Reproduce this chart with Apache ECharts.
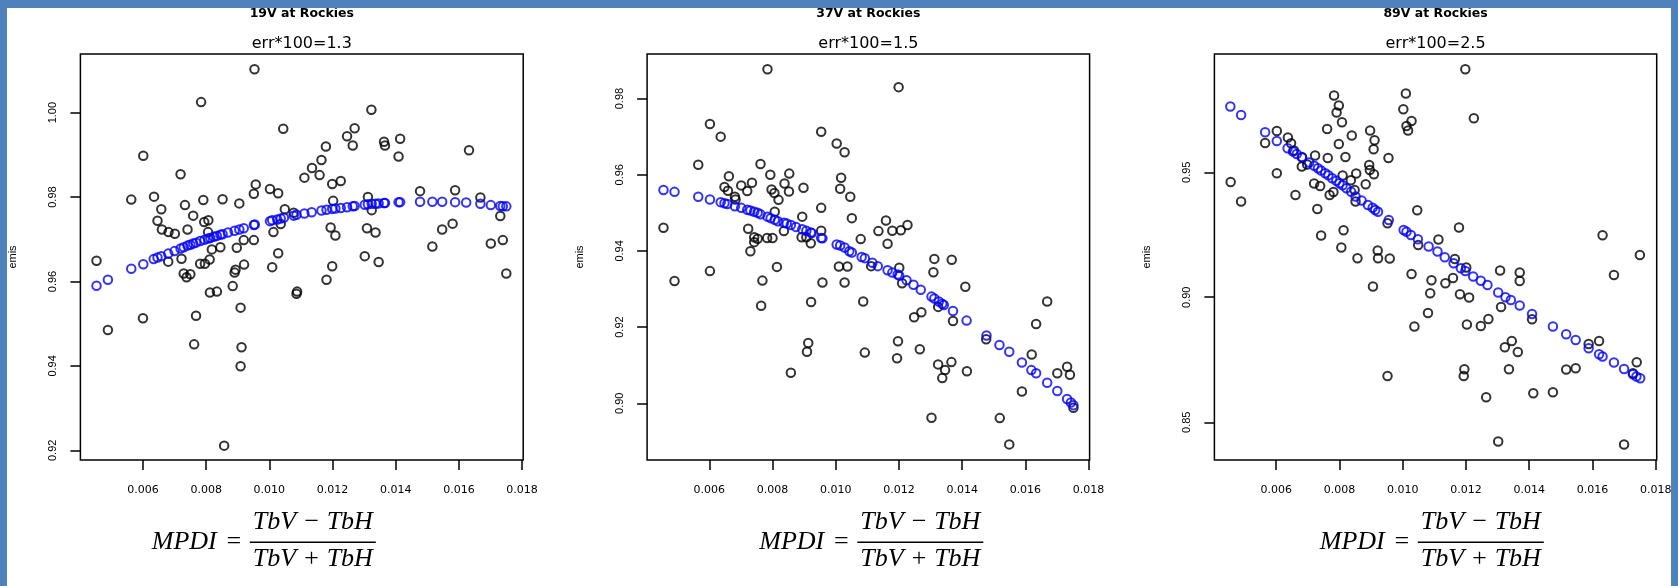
<!DOCTYPE html>
<html>
<head>
<meta charset="utf-8">
<script src="https://cdn.jsdelivr.net/npm/echarts@6/dist/echarts.min.js"></script>
<style>
  html, body { margin: 0; padding: 0; background: #fff; }
  #chart { position: absolute; left: 0; top: 0; width: 1678px; height: 586px; }
  .edge { position: absolute; background: #4f81bd; z-index: 5; }
</style>
</head>
<body>
<div id="chart"></div>
<div class="edge" style="left:0;top:0;width:1678px;height:8px"></div>
<div class="edge" style="left:0;top:0;width:7px;height:586px"></div>
<div class="edge" style="left:1671px;top:0;width:7px;height:586px"></div>
<script>
// panel texts
var mainTitles = ['19V at Rockies', '37V at Rockies', '89V at Rockies'];
var errTitles = ['err*100=1.3', 'err*100=1.5', 'err*100=2.5'];

// tick labels
var xTicks = [0.006, 0.008, 0.010, 0.012, 0.014, 0.016, 0.018];
var yTicks19 = [0.92, 0.94, 0.96, 0.98, 1.00];
var yTicks37 = [0.90, 0.92, 0.94, 0.96, 0.98];
var yTicks89 = [0.85, 0.90, 0.95];

// 19V: observed emis vs MPDI (black) and fitted (blue)
var obs19 = [[0.00953,1.0103],[0.00784,1.0025],[0.01323,1.0007],[0.01044,0.9962],[0.00601,0.9898],[0.00719,0.9854],[0.00563,0.9794],[0.00635,0.9801],[0.00658,0.9771],[0.00646,0.9744],[0.00660,0.9723],[0.00681,0.9717],[0.00701,0.9713],[0.00733,0.9781],[0.00759,0.9756],[0.00741,0.9723],[0.00791,0.9793],[0.00794,0.9741],[0.00807,0.9745],[0.00806,0.9717],[0.00852,0.9795],[0.00905,0.9785],[0.00951,0.9808],[0.00957,0.9830],[0.01002,0.9819],[0.01028,0.9809],[0.01049,0.9771],[0.01077,0.9763],[0.00722,0.9654],[0.00680,0.9647],[0.00818,0.9676],[0.00845,0.9681],[0.00811,0.9652],[0.00781,0.9642],[0.00796,0.9642],[0.00897,0.9680],[0.00919,0.9698],[0.00951,0.9698],[0.00920,0.9640],[0.00893,0.9628],[0.00890,0.9621],[0.00729,0.9619],[0.00738,0.9610],[0.00750,0.9617],[0.00884,0.9589],[0.00812,0.9574],[0.00834,0.9576],[0.01013,0.9717],[0.01036,0.9736],[0.01009,0.9634],[0.01028,0.9667],[0.01088,0.9576],[0.01086,0.9571],[0.01111,0.9846],[0.01135,0.9869],[0.01159,0.9852],[0.01165,0.9888],[0.01179,0.9920],[0.01199,0.9831],[0.01226,0.9838],[0.01202,0.9791],[0.01246,0.9944],[0.01270,0.9963],[0.01264,0.9922],[0.01363,0.9931],[0.01366,0.9922],[0.01414,0.9938],[0.01409,0.9896],[0.01312,0.9800],[0.01324,0.9769],[0.01194,0.9728],[0.01209,0.9709],[0.01309,0.9726],[0.01336,0.9716],[0.01199,0.9636],[0.01181,0.9604],[0.01302,0.9660],[0.01346,0.9646],[0.01477,0.9814],[0.01588,0.9816],[0.01632,0.9911],[0.01516,0.9683],[0.01547,0.9723],[0.01580,0.9737],[0.01668,0.9799],[0.01731,0.9755],[0.01701,0.9690],[0.01739,0.9698],[0.01750,0.9619],[0.00453,0.9649],[0.00489,0.9485],[0.00600,0.9513],[0.00768,0.9519],[0.00762,0.9451],[0.00909,0.9538],[0.00912,0.9444],[0.00909,0.9399],[0.00857,0.9211]];
var fit19 = [[0.00453,0.9590],[0.00489,0.9604],[0.00563,0.9630],[0.00601,0.9641],[0.00634,0.9653],[0.00646,0.9657],[0.00658,0.9660],[0.00680,0.9666],[0.00700,0.9672],[0.00719,0.9678],[0.00729,0.9681],[0.00741,0.9685],[0.00750,0.9687],[0.00759,0.9690],[0.00768,0.9692],[0.00781,0.9696],[0.00795,0.9699],[0.00806,0.9702],[0.00813,0.9703],[0.00824,0.9706],[0.00834,0.9708],[0.00845,0.9711],[0.00852,0.9712],[0.00869,0.9716],[0.00890,0.9720],[0.00905,0.9723],[0.00919,0.9726],[0.00951,0.9734],[0.00954,0.9735],[0.01002,0.9743],[0.01009,0.9745],[0.01025,0.9747],[0.01036,0.9749],[0.01046,0.9751],[0.01077,0.9756],[0.01086,0.9758],[0.01111,0.9761],[0.01134,0.9764],[0.01165,0.9768],[0.01181,0.9770],[0.01199,0.9772],[0.01209,0.9773],[0.01226,0.9774],[0.01246,0.9776],[0.01264,0.9778],[0.01270,0.9779],[0.01302,0.9782],[0.01312,0.9783],[0.01324,0.9784],[0.01336,0.9784],[0.01346,0.9785],[0.01363,0.9786],[0.01366,0.9786],[0.01409,0.9788],[0.01414,0.9788],[0.01477,0.9789],[0.01516,0.9789],[0.01547,0.9789],[0.01588,0.9788],[0.01623,0.9787],[0.01668,0.9784],[0.01701,0.9781],[0.01731,0.9779],[0.01739,0.9778],[0.01750,0.9778]];

// 37V
var obs37 = [[0.00784,0.9877],[0.01199,0.9830],[0.00602,0.9733],[0.00636,0.9700],[0.00954,0.9713],[0.01003,0.9682],[0.01028,0.9659],[0.00565,0.9626],[0.00762,0.9628],[0.00662,0.9596],[0.00793,0.9600],[0.00853,0.9603],[0.00648,0.9568],[0.00659,0.9558],[0.00701,0.9572],[0.00735,0.9579],[0.00720,0.9557],[0.00681,0.9542],[0.00683,0.9535],[0.00797,0.9561],[0.00806,0.9552],[0.00819,0.9534],[0.00838,0.9577],[0.00852,0.9556],[0.00898,0.9566],[0.01017,0.9592],[0.01014,0.9563],[0.01046,0.9542],[0.00807,0.9503],[0.00894,0.9490],[0.00954,0.9513],[0.01051,0.9486],[0.00723,0.9458],[0.00742,0.9436],[0.00753,0.9432],[0.00742,0.9423],[0.00783,0.9434],[0.00800,0.9434],[0.00836,0.9452],[0.00892,0.9436],[0.00907,0.9436],[0.00921,0.9420],[0.00954,0.9453],[0.00730,0.9399],[0.01079,0.9431],[0.01135,0.9452],[0.01159,0.9480],[0.01179,0.9453],[0.01206,0.9454],[0.01227,0.9468],[0.01164,0.9419],[0.00602,0.9347],[0.00455,0.9461],[0.00490,0.9321],[0.00814,0.9358],[0.00768,0.9322],[0.01010,0.9359],[0.01037,0.9359],[0.00958,0.9317],[0.01028,0.9317],[0.01112,0.9360],[0.01201,0.9356],[0.01210,0.9315],[0.01312,0.9379],[0.01367,0.9377],[0.01309,0.9344],[0.01410,0.9306],[0.01669,0.9267],[0.00764,0.9256],[0.00922,0.9266],[0.01087,0.9267],[0.01271,0.9239],[0.01248,0.9226],[0.01324,0.9253],[0.01371,0.9216],[0.01634,0.9208],[0.01476,0.9168],[0.01197,0.9163],[0.01266,0.9142],[0.01620,0.9128],[0.00913,0.9158],[0.00909,0.9135],[0.01092,0.9133],[0.01194,0.9118],[0.01324,0.9102],[0.01366,0.9108],[0.01346,0.9087],[0.01337,0.9066],[0.01415,0.9084],[0.00858,0.9080],[0.01732,0.9096],[0.01701,0.9079],[0.01741,0.9075],[0.01589,0.9031],[0.01752,0.8988],[0.01303,0.8962],[0.01519,0.8961],[0.01549,0.8892]];
var fit37 = [[0.00455,0.9560],[0.00490,0.9555],[0.00565,0.9542],[0.00602,0.9535],[0.00636,0.9528],[0.00648,0.9525],[0.00657,0.9523],[0.00681,0.9517],[0.00701,0.9513],[0.00720,0.9508],[0.00730,0.9506],[0.00742,0.9503],[0.00753,0.9500],[0.00762,0.9496],[0.00784,0.9490],[0.00794,0.9486],[0.00807,0.9482],[0.00817,0.9478],[0.00836,0.9474],[0.00845,0.9472],[0.00858,0.9468],[0.00874,0.9463],[0.00894,0.9457],[0.00907,0.9453],[0.00921,0.9448],[0.00924,0.9447],[0.00954,0.9434],[0.00958,0.9433],[0.01003,0.9417],[0.01014,0.9414],[0.01028,0.9409],[0.01043,0.9399],[0.01051,0.9396],[0.01082,0.9384],[0.01092,0.9381],[0.01116,0.9369],[0.01133,0.9360],[0.01164,0.9349],[0.01179,0.9343],[0.01196,0.9338],[0.01201,0.9335],[0.01224,0.9323],[0.01246,0.9311],[0.01269,0.9298],[0.01303,0.9280],[0.01312,0.9275],[0.01326,0.9267],[0.01337,0.9261],[0.01342,0.9258],[0.01371,0.9242],[0.01414,0.9217],[0.01477,0.9178],[0.01518,0.9153],[0.01549,0.9135],[0.01589,0.9107],[0.01619,0.9087],[0.01634,0.9079],[0.01669,0.9054],[0.01701,0.9032],[0.01732,0.9011],[0.01744,0.9002],[0.01752,0.8995]];

// 89V
var obs89 = [[0.01198,0.9912],[0.01010,0.9815],[0.00783,0.9807],[0.00798,0.9767],[0.00791,0.9739],[0.00808,0.9700],[0.01002,0.9752],[0.01028,0.9705],[0.01012,0.9685],[0.01017,0.9667],[0.01225,0.9716],[0.00602,0.9665],[0.00761,0.9673],[0.00897,0.9667],[0.00565,0.9617],[0.00637,0.9639],[0.00647,0.9616],[0.00798,0.9613],[0.00839,0.9647],[0.00911,0.9628],[0.00908,0.9592],[0.00955,0.9557],[0.00656,0.9587],[0.00682,0.9559],[0.00723,0.9567],[0.00763,0.9557],[0.00819,0.9561],[0.00681,0.9523],[0.00698,0.9531],[0.00602,0.9496],[0.00894,0.9529],[0.00896,0.9509],[0.00909,0.9492],[0.00810,0.9487],[0.00853,0.9495],[0.00720,0.9455],[0.00739,0.9445],[0.00836,0.9468],[0.00883,0.9452],[0.00456,0.9461],[0.00489,0.9383],[0.00661,0.9409],[0.00769,0.9409],[0.00781,0.9421],[0.00848,0.9429],[0.00851,0.9383],[0.00730,0.9353],[0.01046,0.9348],[0.00742,0.9247],[0.00813,0.9268],[0.00952,0.9296],[0.01178,0.9279],[0.00806,0.9199],[0.00921,0.9187],[0.00922,0.9156],[0.00857,0.9156],[0.00959,0.9155],[0.01113,0.9231],[0.01049,0.9209],[0.01165,0.9153],[0.01201,0.9119],[0.01632,0.9248],[0.01750,0.9169],[0.01668,0.9089],[0.01308,0.9107],[0.01370,0.9099],[0.01370,0.9065],[0.01028,0.9093],[0.01091,0.9068],[0.01159,0.9077],[0.01135,0.9056],[0.00906,0.9043],[0.01087,0.9016],[0.01181,0.9012],[0.01210,0.8999],[0.01311,0.8961],[0.01080,0.8937],[0.01037,0.8883],[0.01203,0.8891],[0.01247,0.8885],[0.01271,0.8913],[0.01409,0.8912],[0.01345,0.8825],[0.01323,0.8800],[0.01364,0.8781],[0.01588,0.8813],[0.01621,0.8825],[0.01336,0.8712],[0.01517,0.8711],[0.01547,0.8716],[0.01740,0.8740],[0.01728,0.8696],[0.01195,0.8712],[0.01193,0.8685],[0.00952,0.8685],[0.01264,0.8600],[0.01413,0.8616],[0.01475,0.8620],[0.01302,0.8423],[0.01700,0.8411]];
var fit89 = [[0.00455,0.9763],[0.00489,0.9729],[0.00565,0.9660],[0.00602,0.9625],[0.00636,0.9596],[0.00653,0.9583],[0.00665,0.9573],[0.00681,0.9561],[0.00704,0.9539],[0.00720,0.9526],[0.00732,0.9516],[0.00742,0.9507],[0.00755,0.9496],[0.00765,0.9488],[0.00777,0.9476],[0.00790,0.9466],[0.00800,0.9456],[0.00810,0.9448],[0.00822,0.9436],[0.00837,0.9422],[0.00851,0.9403],[0.00870,0.9387],[0.00890,0.9369],[0.00905,0.9358],[0.00913,0.9349],[0.00922,0.9342],[0.00956,0.9309],[0.01003,0.9269],[0.01012,0.9262],[0.01026,0.9249],[0.01048,0.9232],[0.01082,0.9203],[0.01110,0.9183],[0.01133,0.9160],[0.01161,0.9136],[0.01184,0.9116],[0.01198,0.9105],[0.01223,0.9083],[0.01247,0.9066],[0.01268,0.9049],[0.01302,0.9019],[0.01325,0.9000],[0.01342,0.8989],[0.01370,0.8967],[0.01409,0.8933],[0.01475,0.8883],[0.01517,0.8852],[0.01547,0.8829],[0.01588,0.8796],[0.01621,0.8772],[0.01632,0.8763],[0.01668,0.8739],[0.01700,0.8713],[0.01728,0.8692],[0.01739,0.8683],[0.01751,0.8676]];

// layout of the three panels (pixels) and axis limits
var panels = [
    { left: 80.4,   width: 442.8, xMin: 0.00402,  xMax: 0.018035, yMin: 0.9177, yMax: 1.0139, yTicks: yTicks19, obs: obs19, fit: fit19, eqX: 151.8 },
    { left: 647.1,  width: 442.5, xMin: 0.004032, xMax: 0.018032, yMin: 0.8851, yMax: 0.9917, yTicks: yTicks37, obs: obs37, fit: fit37, eqX: 759.3 },
    { left: 1214.4, width: 442.3, xMin: 0.004046, xMax: 0.018032, yMin: 0.8349, yMax: 0.9973, yTicks: yTicks89, obs: obs89, fit: fit89, eqX: 1319.8 }
];
var plotTop = 54, plotHeight = 406;

var grids = [], xAxes = [], yAxes = [], series = [], graphics = [];

panels.forEach(function (p, i) {
    grids.push({
        left: p.left, top: plotTop, width: p.width, height: plotHeight,
        show: true, borderColor: '#000', borderWidth: 1.5, backgroundColor: 'transparent',
        outerBoundsMode: 'none'
    });
    xAxes.push({
        gridIndex: i, type: 'value', min: p.xMin, max: p.xMax,
        axisLine: { show: false },
        splitLine: { show: false },
        axisTick: { show: true, length: 10, customValues: xTicks, lineStyle: { color: '#000', width: 1.5 } },
        axisLabel: {
            customValues: xTicks, margin: 25, color: '#000',
            fontFamily: 'DejaVu Sans', fontSize: 11,
            formatter: function (v) { return v.toFixed(3); }
        }
    });
    yAxes.push({
        gridIndex: i, type: 'value', min: p.yMin, max: p.yMax,
        name: 'emis', nameLocation: 'middle', nameGap: 62, nameRotate: 90,
        nameTextStyle: { color: '#000', fontFamily: 'Liberation Sans', fontSize: 11 },
        axisLine: { show: false },
        splitLine: { show: false },
        axisTick: { show: true, length: 10, customValues: p.yTicks, lineStyle: { color: '#000', width: 1.5 } },
        axisLabel: {
            customValues: p.yTicks, margin: 22, rotate: 90, color: '#000',
            fontFamily: 'Liberation Sans', fontSize: 11,
            formatter: function (v) { return v.toFixed(2); }
        }
    });
    // observed points, black open circles
    series.push({
        type: 'scatter', xAxisIndex: i, yAxisIndex: i, data: p.obs,
        symbol: 'circle', symbolSize: 8.5, silent: true,
        itemStyle: { color: 'rgba(0,0,0,0)', borderColor: '#000', borderWidth: 2 }
    });
    // fitted values, blue open circles on top
    series.push({
        type: 'scatter', xAxisIndex: i, yAxisIndex: i, data: p.fit,
        symbol: 'circle', symbolSize: 8.5, silent: true,
        itemStyle: { color: 'rgba(0,0,0,0)', borderColor: '#0000ff', borderWidth: 2 }
    });

    var cx = p.left + p.width / 2;
    graphics.push({ type: 'text', x: cx, y: 14, style: { text: mainTitles[i], font: 'bold 12.5px "DejaVu Sans"', fill: '#000', align: 'center', verticalAlign: 'middle' } });
    graphics.push({ type: 'text', x: cx, y: 44, style: { text: errTitles[i], font: '16px "DejaVu Sans"', fill: '#000', align: 'center', verticalAlign: 'middle' } });

    // MPDI = (TbV - TbH) / (TbV + TbH)
    var x0 = p.eqX;
    var mathFont = 'italic 26px "Liberation Serif"';
    graphics.push({ type: 'text', x: x0, y: 542, style: { text: 'MPDI', font: mathFont, fill: '#000', align: 'left', verticalAlign: 'middle' } });
    graphics.push({ type: 'text', x: x0 + 82, y: 542, style: { text: '=', font: '26px "Liberation Serif"', fill: '#000', align: 'center', verticalAlign: 'middle' } });
    graphics.push({ type: 'text', x: x0 + 161, y: 522, style: { text: 'TbV \u2212 TbH', font: mathFont, fill: '#000', align: 'center', verticalAlign: 'middle' } });
    graphics.push({ type: 'rect', shape: { x: x0 + 98, y: 541.5, width: 126, height: 1.5 }, style: { fill: '#000' } });
    graphics.push({ type: 'text', x: x0 + 161, y: 559, style: { text: 'TbV + TbH', font: mathFont, fill: '#000', align: 'center', verticalAlign: 'middle' } });
});

var myChart = echarts.init(document.getElementById('chart'));
myChart.setOption({
    animation: false,
    grid: grids,
    xAxis: xAxes,
    yAxis: yAxes,
    series: series,
    graphic: graphics
});
</script>
</body>
</html>
